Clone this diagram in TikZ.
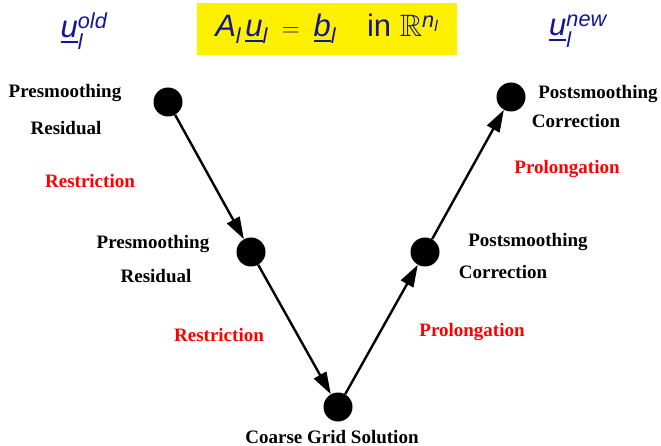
\documentclass[tikz,border=0pt]{standalone}
\usepackage{amsmath,amssymb}
\usepackage{fontspec}
\setmainfont{Liberation Serif}
\newfontfamily\hdfont{Liberation Sans}
\usetikzlibrary{arrows.meta}
\definecolor{hdblue}{RGB}{20,20,150}
\definecolor{hdyellow}{RGB}{255,240,0}
\newcommand{\hv}[1]{\text{\hdfont\itshape #1}}
\tikzset{
  dot/.style={circle,fill=black,minimum size=29pt,inner sep=0pt},
  lbl/.style={font=\fontsize{19}{21}\selectfont\bfseries,inner sep=0pt},
  op/.style={lbl,text=red},
  hd/.style={font=\fontsize{31}{34}\selectfont\hdfont,text=hdblue,inner sep=0pt},
  arr/.style={-{Triangle[length=22pt,width=14pt]},line width=2.4pt}
}

\begin{document}
\begin{tikzpicture}[x=1pt,y=-1pt]
\useasboundingbox (0,0) rectangle (661,446);
% header
\node[fill=hdyellow,minimum width=260pt,minimum height=52pt] (eqbox) at (327,29) {};
\node[hd] (eq) at (eqbox.center) {$\hv{A}_{\hv{l}}\,\underline{\hv{u}}_{\hv{l}}\;=\;\underline{\hv{b}}_{\hv{l}}$\quad in $\mathbb{R}^{\hv{n}_{\hv{l}}}$};
\node[hd] (uold) at (84,31) {$\underline{\hv{u}}_{\hv{l}}^{\hv{old}}$};
\node[hd] (unew) at (578,31) {$\underline{\hv{u}}_{\hv{l}}^{\hv{new}}$};
% V-cycle
\node[dot] (pre1) at (168,102) {};
\node[dot] (pre2) at (251,252) {};
\node[dot] (coarse) at (338,407) {};
\node[dot] (post2) at (425,252) {};
\node[dot] (post1) at (511,97) {};
\draw[arr] (pre1) -- (pre2);
\draw[arr] (pre2) -- (coarse);
\draw[arr] (coarse) -- (post2);
\draw[arr] (post2) -- (post1);
% labels
\node[lbl] (pre1a) at (65,93) {Presmoothing};
\node[lbl] (pre1b) at (66,128) {Residual};
\node[op] (res1) at (90,181) {Restriction};
\node[lbl] (pre2a) at (153,244) {Presmoothing};
\node[lbl] (pre2b) at (156,276) {Residual};
\node[op] (res2) at (219,335) {Restriction};
\node[lbl,anchor=base] (cgs) at (332,443) {Coarse Grid Solution};
\node[op] (pro2) at (472,332) {Prolongation};
\node[lbl] (post2a) at (528,242) {Postsmoothing};
\node[lbl] (post2b) at (503,272) {Correction};
\node[op] (pro1) at (567,169) {Prolongation};
\node[lbl] (post1a) at (598,94) {Postsmoothing};
\node[lbl] (post1b) at (576,121) {Correction};
\end{tikzpicture}
\end{document}
